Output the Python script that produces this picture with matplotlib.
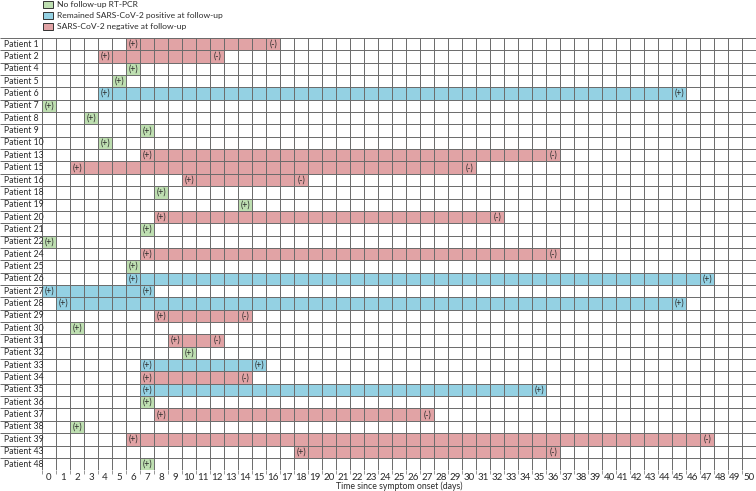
import numpy as np
import matplotlib.pyplot as plt

plt.rcParams['font.family'] = ['Lato', 'DejaVu Sans']

# rows top -> bottom
patients = [1, 2, 4, 5, 6, 7, 8, 9, 10, 13, 15, 16, 18, 19, 20, 21, 22, 24,
            25, 26, 27, 28, 29, 30, 31, 32, 33, 34, 35, 36, 37, 38, 39, 43, 48]
# first positive day, last follow-up day
start_day = [6, 4, 6, 5, 4, 0, 3, 7, 4, 7, 2, 10, 8, 14, 8, 7, 0, 7,
             6, 6, 0, 1, 8, 2, 9, 10, 7, 7, 7, 7, 8, 2, 6, 18, 7]
end_day = [16, 12, 6, 5, 45, 0, 3, 7, 4, 36, 30, 18, 8, 14, 32, 7, 0, 36,
           6, 47, 7, 45, 14, 2, 12, 10, 15, 14, 35, 7, 27, 2, 47, 36, 7]
# n = no follow-up, p = remained positive, g = negative at follow-up
outcome = ['g', 'g', 'n', 'n', 'p', 'n', 'n', 'n', 'n', 'g', 'g', 'g', 'n', 'n', 'g', 'n', 'n', 'g',
           'n', 'p', 'p', 'p', 'g', 'n', 'g', 'n', 'p', 'g', 'p', 'n', 'g', 'n', 'g', 'g', 'n']

days = np.arange(0, 51)
colors = {'n': '#bedfb1', 'p': '#94d1e3', 'g': '#e1a3a5'}
legend_labels = {'n': 'No follow-up RT-PCR',
                 'p': 'Remained SARS-CoV-2 positive at follow-up',
                 'g': 'SARS-CoV-2 negative at follow-up'}

W, H = 756, 491
fig = plt.figure(figsize=(W / 100, H / 100), dpi=100)
top_px, bot_px = 38.0, 470.2
ax = fig.add_axes([0, 1 - bot_px / H, 1, (bot_px - top_px) / H])

n_rows = len(patients)
n_days = len(days)
ax.set_xlim(-3, n_days)
ax.set_ylim(n_rows, 0)

txt = '#2a2a2a'
for i, (s, e, o) in enumerate(zip(start_day, end_day, outcome)):
    ax.barh(i + 0.5, e - s + 1, left=s, height=1, color=colors[o], linewidth=0, zorder=1)
    ax.text(s + 0.5, i + 0.5, '(+)', ha='center', va='center', fontsize=6.3, color=txt, zorder=3)
    if e != s:
        ax.text(e + 0.5, i + 0.5, '(+)' if o == 'p' else '(-)', ha='center', va='center',
                fontsize=6.3, color=txt, zorder=3)
    ax.text(-2.72, i + 0.5, f'Patient {patients[i]}', ha='left', va='center', fontsize=6.2, color=txt)

# grid
line_kw = dict(color='#6a6a6a', linewidth=0.7, zorder=2)
ax.vlines(np.arange(0, n_days + 1), 0, n_rows, **line_kw)
ax.hlines(np.arange(0, n_rows + 1), -3, n_days, **line_kw)

for sp in ax.spines.values():
    sp.set_visible(False)
ax.set_yticks([])
ax.set_xticks(days + 0.5)
ax.set_xticklabels([str(d) for d in days], fontsize=7, color=txt)
ax.tick_params(axis='x', which='major', length=0, pad=2)
ax.set_xticks(np.arange(0, n_days + 1), minor=True)
ax.tick_params(axis='x', which='minor', length=3, width=0.6, color='#888888')

ax.text(n_days / 2, n_rows + 1.3, 'Time since symptom onset (days)', ha='center', va='center',
        fontsize=6.3, color=txt)

# legend
for k, key in enumerate(['n', 'p', 'g']):
    y = 4.5 + k * 10.8
    fig.patches.append(plt.Rectangle((43 / W, 1 - (y + 3.5) / H), 10 / W, 7 / H,
                                     transform=fig.transFigure, facecolor=colors[key],
                                     edgecolor='#333333', linewidth=0.7))
    fig.text(57 / W, 1 - y / H, legend_labels[key], ha='left', va='center', fontsize=6.1, color=txt)

fig.savefig('out.png', dpi=100)
